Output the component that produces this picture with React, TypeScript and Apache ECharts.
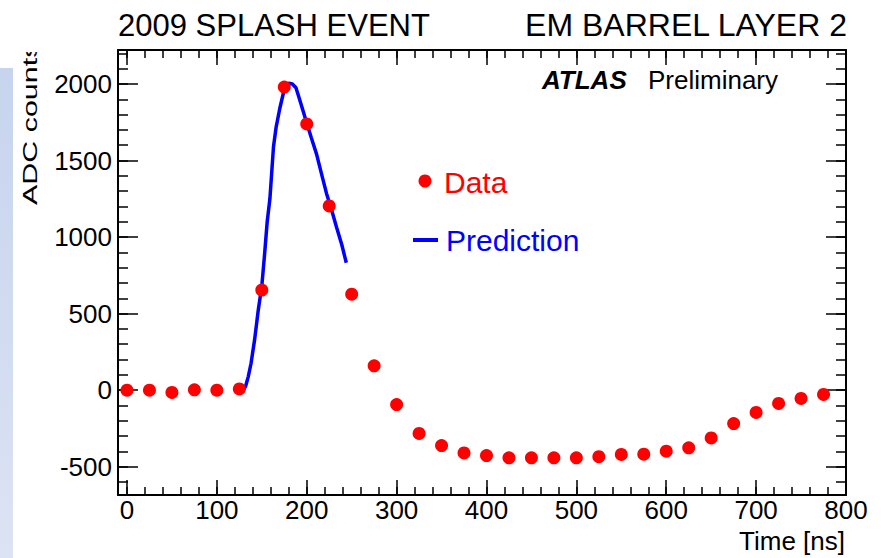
import React, { useEffect, useRef } from "react";
import * as echarts from "echarts";

// ---- data ----
const timeNs = [0, 25, 50, 75, 100, 125, 150, 175, 200, 225, 250, 275, 300, 325, 350, 375, 400, 425, 450, 475, 500, 525, 550, 575, 600, 625, 650, 675, 700, 725, 750, 775];
const adcData = [0, 0, -15, 2, 0, 8, 654, 1980, 1739, 1203, 627, 159, -94, -283, -362, -410, -427, -442, -442, -442, -442, -435, -420, -418, -399, -377, -312, -218, -146, -87, -54, -28];

const predTime = [130, 132, 135, 138, 142, 146, 150, 153, 156, 159, 163, 166, 170, 176, 180, 184, 188, 192, 199, 205, 211, 217, 222, 228, 233, 239, 244];
const predAdc = [5, 25, 90, 174, 330, 520, 680, 880, 1100, 1250, 1590, 1720, 1840, 1990, 2005, 2000, 1975, 1900, 1765, 1650, 1540, 1400, 1285, 1170, 1067, 950, 832];

const xTickLabels = [0, 100, 200, 300, 400, 500, 600, 700, 800];
const yTickLabels = [-500, 0, 500, 1000, 1500, 2000];
const xMin = -10, xMax = 800;
const yMin = -685, yMax = 2222;

const titleLeft = "2009 SPLASH EVENT";
const titleRight = "EM BARREL LAYER 2";
const xTitle = "Time [ns]";
const yTitle = "ADC counts";

const FONT = "Liberation Sans, Arial, Helvetica, sans-serif";

function range(a: number, b: number, step: number) {
  const out: number[] = [];
  for (let v = a; v <= b + 1e-9; v += step) out.push(v);
  return out;
}
const xMinor = range(0, 800, 20);
const yMinor = range(-600, 2200, 100);

export default function App() {
  const ref = useRef<HTMLDivElement>(null);
  useEffect(() => {
    if (!ref.current) return;
    const chart = echarts.init(ref.current, null, { renderer: "svg" });

    const lineStyle = { color: "#000", width: 2 };
    const tickStyle = { color: "#000", width: 1.5 };
    const plain = (v: number) => String(v);

    const xAx = (pos: string, values: number[], len: number, showLine: boolean, showLabel: boolean) => ({
      type: "value",
      position: pos,
      min: xMin,
      max: xMax,
      axisLine: { show: showLine, lineStyle, onZero: false },
      axisTick: { show: true, inside: true, length: len, customValues: values, lineStyle: tickStyle },
      axisLabel: showLabel
        ? { show: true, customValues: xTickLabels, formatter: plain, fontSize: 26, fontFamily: FONT, color: "#000", margin: 2 }
        : { show: false },
      splitLine: { show: false },
    });
    const yAx = (pos: string, values: number[], len: number, showLine: boolean, showLabel: boolean) => ({
      type: "value",
      position: pos,
      min: yMin,
      max: yMax,
      axisLine: { show: showLine, lineStyle, onZero: false },
      axisTick: { show: true, inside: true, length: len, customValues: values, lineStyle: tickStyle },
      axisLabel: showLabel
        ? { show: true, customValues: yTickLabels, formatter: plain, fontSize: 26, fontFamily: FONT, color: "#000", margin: 6 }
        : { show: false },
      splitLine: { show: false },
    });

    chart.setOption({
      animation: false,
      backgroundColor: "#fff",
      grid: { left: 118, top: 50, width: 728, height: 445, containLabel: false, outerBoundsMode: "none" },
      xAxis: [
        xAx("bottom", xTickLabels, 15, true, true),
        xAx("bottom", xMinor, 8, false, false),
        xAx("top", xTickLabels, 15, true, false),
        xAx("top", xMinor, 8, false, false),
      ],
      yAxis: [
        yAx("left", yTickLabels, 20, true, true),
        yAx("left", yMinor, 10, false, false),
        yAx("right", yTickLabels, 20, true, false),
        yAx("right", yMinor, 10, false, false),
      ],
      series: [
        {
          name: "Prediction",
          type: "line",
          xAxisIndex: 0,
          yAxisIndex: 0,
          data: predTime.map((t, i) => [t, predAdc[i]]),
          showSymbol: false,
          lineStyle: { color: "#0000ff", width: 3.5 },
          z: 2,
        },
        {
          name: "Data",
          type: "scatter",
          xAxisIndex: 0,
          yAxisIndex: 0,
          data: timeNs.map((t, i) => [t, adcData[i]]),
          symbol: "circle",
          symbolSize: 13,
          itemStyle: { color: "#ff0000", opacity: 1 },
          z: 3,
        },
      ],
      graphic: [
        {
          type: "rect",
          shape: { x: 0, y: 68, width: 13, height: 490 },
          style: {
            fill: new echarts.graphic.LinearGradient(0, 0, 0, 1, [
              { offset: 0, color: "#c6d4ee" },
              { offset: 1, color: "#dce3f3" },
            ]),
          },
          z: 1,
        },
        {
          type: "text",
          x: 30,
          y: 205,
          rotation: Math.PI / 2,
          scaleX: 1.45,
          style: { text: yTitle, font: `21px ${FONT}`, fill: "#000", align: "left", verticalAlign: "middle" },
          z: 5,
        },
        {
          type: "rect",
          shape: { x: 14, y: 0, width: 40, height: 52 },
          style: { fill: "#fff" },
          z: 6,
        },
        {
          type: "text",
          x: 118,
          y: 25,
          style: { text: titleLeft, font: `31px ${FONT}`, fill: "#000", align: "left", verticalAlign: "middle" },
          z: 7,
        },
        {
          type: "text",
          x: 847,
          y: 25,
          style: { text: titleRight, font: `32px ${FONT}`, fill: "#000", align: "right", verticalAlign: "middle" },
          z: 7,
        },
        {
          type: "text",
          x: 845,
          y: 541,
          style: { text: xTitle, font: `26px ${FONT}`, fill: "#000", align: "right", verticalAlign: "middle" },
          z: 7,
        },
        {
          type: "text",
          x: 542,
          y: 80,
          style: { text: "ATLAS", font: `italic bold 26px ${FONT}`, fill: "#000", align: "left", verticalAlign: "middle" },
          z: 7,
        },
        {
          type: "text",
          x: 648,
          y: 80,
          style: { text: "Preliminary", font: `26px ${FONT}`, fill: "#000", align: "left", verticalAlign: "middle" },
          z: 7,
        },
        {
          type: "circle",
          shape: { cx: 425, cy: 181, r: 6.5 },
          style: { fill: "#ff0000" },
          z: 7,
        },
        {
          type: "text",
          x: 444,
          y: 182,
          style: { text: "Data", font: `30px ${FONT}`, fill: "#ff0000", align: "left", verticalAlign: "middle" },
          z: 7,
        },
        {
          type: "line",
          shape: { x1: 413, y1: 240, x2: 438, y2: 240 },
          style: { stroke: "#0000ff", lineWidth: 4 },
          z: 7,
        },
        {
          type: "text",
          x: 446,
          y: 240,
          style: { text: "Prediction", font: `30px ${FONT}`, fill: "#0000ff", align: "left", verticalAlign: "middle" },
          z: 7,
        },
      ],
    });
    return () => chart.dispose();
  }, []);

  return (
    <div
      ref={ref}
      style={{ position: "fixed", left: 0, top: 0, width: 881, height: 558, background: "#fff" }}
    />
  );
}
